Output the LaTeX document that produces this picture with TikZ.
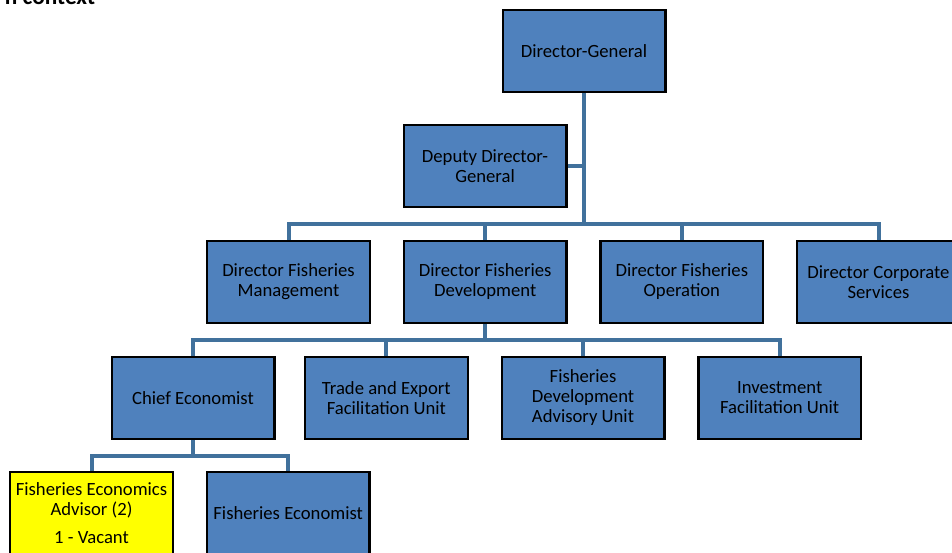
\documentclass[tikz,border=0pt]{standalone}
\usepackage{fontspec}
\setmainfont{Carlito}
\usetikzlibrary{positioning}
\definecolor{boxblue}{RGB}{79,129,189}
\definecolor{lineblue}{RGB}{65,113,156}
\definecolor{vacantyellow}{RGB}{255,255,0}

\begin{document}
\begin{tikzpicture}[
						x=0.6pt, y=-0.6pt,
						node distance={19pt},
						post/.style = {draw=black, line width=1.4pt, fill=boxblue, rectangle, minimum width=97.6pt, minimum height=49.2pt, inner sep=2pt, align=center, font=\fontsize{11.2}{12}\selectfont},
						vacant/.style = {post, fill=vacantyellow},
						link/.style = {draw=lineblue, line width=2.4pt},
					]

\useasboundingbox (0,0) rectangle (952,552);

\node[anchor=base west, font=\fontsize{14}{16}\selectfont\bfseries] (title) at (-1,4) {n context};

\node[post] (dg) at (584,51) {Director-General};
\node[post] (ddg) at (485,166) {Deputy Director-\\General};

\node[post] (dfm) at (288.5,282) {Director Fisheries\\Management};
\node[post] (dfd) [right=of dfm] {Director Fisheries\\Development};
\node[post] (dfo) [right=of dfd] {Director Fisheries\\Operation};
\node[post] (dcs) [right=of dfo] {Director Corporate\\Services};

\node[post] (ce) at (193,398) {Chief Economist};
\node[post] (tefu) [right=17pt of ce] {Trade and Export\\Facilitation Unit};
\node[post] (fdau) [right=of tefu] {Fisheries\\Development\\Advisory Unit};
\node[post] (ifu) [right=of fdau] {Investment\\Facilitation Unit};

\node[vacant] (fea) at (91.5,513) {Fisheries Economics\\Advisor (2)\\[5pt]1 - Vacant};
\node[post] (fe) [right=of fea] {Fisheries Economist};

\coordinate (bar1) at (584,224);
\coordinate (bar2) at (485.5,340);
\coordinate (bar3) at (193,456);

\draw[link] (dg) -- (dg |- bar1);
\draw[link] (ddg) -- (ddg -| bar1);
\draw[link] (dfm) |- (bar1) -| (dcs);
\draw[link] (dfd) -- (dfd |- bar1);
\draw[link] (dfo) -- (dfo |- bar1);

\draw[link] (dfd) -- (dfd |- bar2);
\draw[link] (ce) |- (bar2) -| (ifu);
\draw[link] (tefu) -- (tefu |- bar2);
\draw[link] (fdau) -- (fdau |- bar2);

\draw[link] (ce) -- (ce |- bar3);
\draw[link] (fea) |- (bar3) -| (fe);

\end{tikzpicture}
\end{document}
